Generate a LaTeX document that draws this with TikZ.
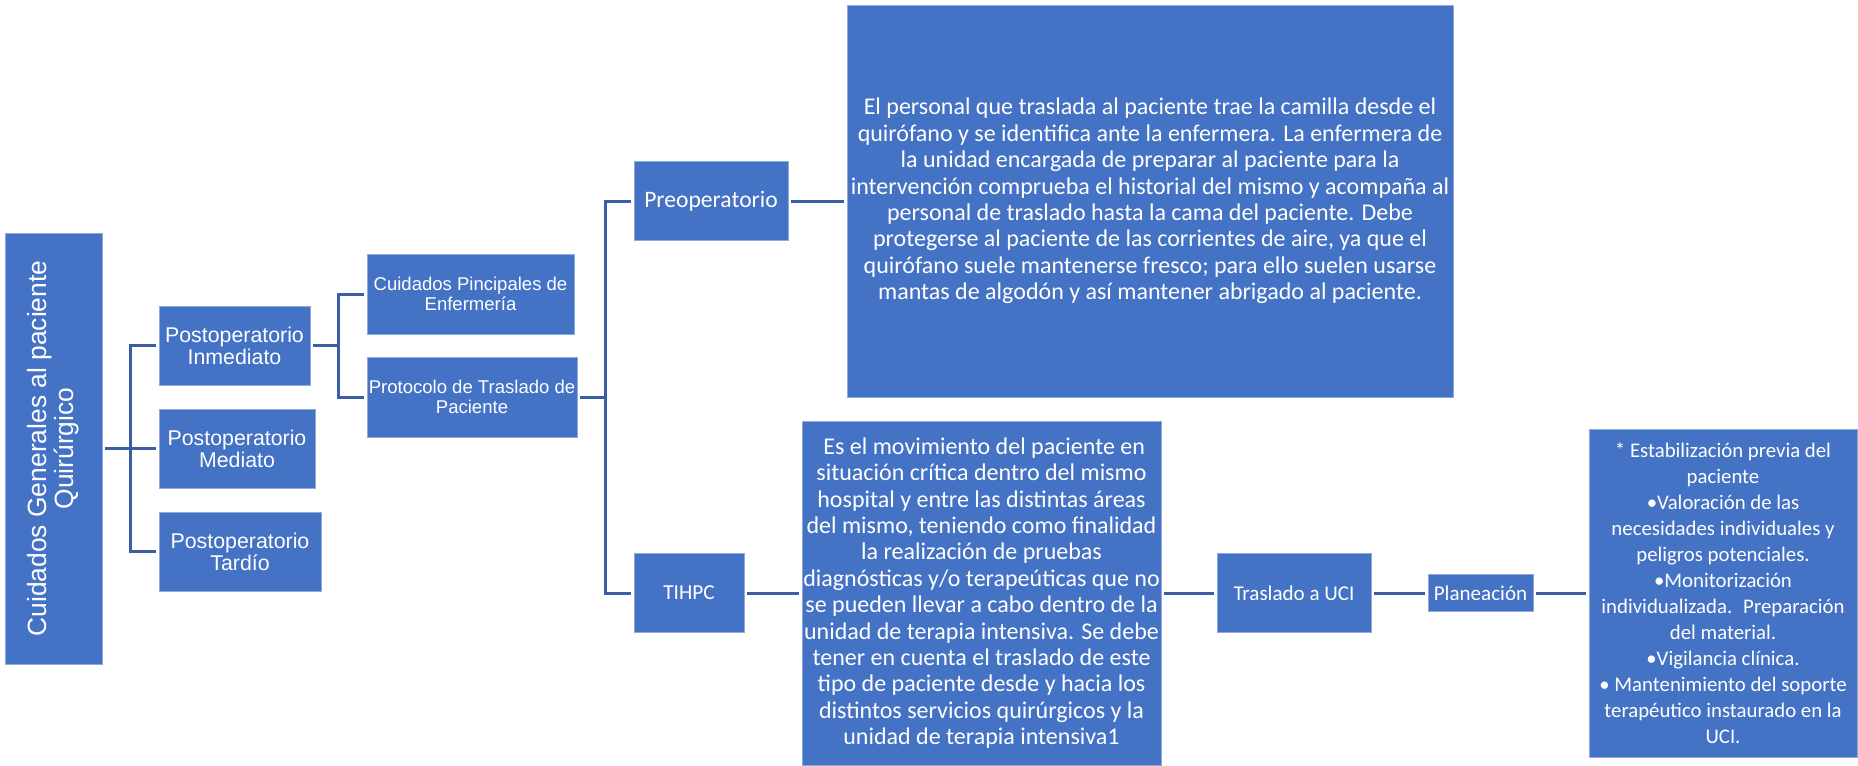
\documentclass[tikz,border=0pt]{standalone}
\usepackage{fontspec}
\newfontfamily\arialf{Liberation Sans}
\newfontfamily\calf{Carlito}
\usetikzlibrary{positioning}
\definecolor{boxC}{HTML}{4472C4}
\definecolor{edgeC}{HTML}{8EA9DB}
\definecolor{lineC}{HTML}{3A5DA5}
\tikzstyle{blk}=[draw=edgeC, line width=0.75pt, fill=boxC, text=white, shape=rectangle, inner sep=0pt, outer sep=2pt, align=center]
\tikzstyle{sbx}=[blk, font=\arialf\fontsize{16}{16.7}\selectfont, minimum height=59.25pt]
\tikzstyle{pbx}=[blk, font=\arialf\fontsize{13.9}{14.5}\selectfont, minimum height=60pt]
\tikzstyle{cbx}=[blk, font=\calf\fontsize{16}{18}\selectfont, minimum height=59.25pt]
\tikzstyle{tbx}=[blk, font=\calf\fontsize{18}{19.8}\selectfont]
\tikzstyle{carrow}=[line width=2.25pt, color=lineC]
\def\sbx{\node[style=sbx]}
\def\pbx{\node[style=pbx]}
\def\cbx{\node[style=cbx]}
\def\tbx{\node[style=tbx]}
\def\carrow{\draw[style=carrow]}

\begin{document}
\begin{tikzpicture}[x=0.75pt, y=-0.75pt]
      \useasboundingbox (0,0) rectangle (1858,765);
      % root (rotated, so .south is its right side)
      \node[blk, rotate=90, font=\arialf\fontsize{19.8}{20.5}\selectfont, minimum width=323.25pt, minimum height=72.75pt] (root) at (53.5,448.5)
            {Cuidados Generales al paciente\\Quirúrgico};
      % postoperatorio
      \sbx[minimum width=113.25pt] (pinm) at (234.5,345.5) {Postoperatorio\\Inmediato};
      \sbx[minimum width=117pt]    (pmed) at (237,448.5)   {Postoperatorio\\Mediato};
      \sbx[minimum width=121.5pt]  (ptar) at (240,551.5)   {Postoperatorio\\Tardío};
      \pbx[minimum width=155.25pt] (cuid) at (470.5,294)   {Cuidados Pincipales de\\Enfermería};
      \pbx[minimum width=157.5pt]  (prot) at (472,397)     {Protocolo de Traslado de\\Paciente};
      % traslado
      \cbx[minimum width=115.5pt, font=\calf\fontsize{17.7}{19}\selectfont] (preop) at (711,201) {Preoperatorio};
      \cbx[minimum width=82.5pt]   (tihpc) at (689,593)    {TIHPC};
      \tbx[minimum width=454.5pt, minimum height=294pt] (txtpre) at (1150,201)
            {El personal que traslada al paciente trae la camilla desde el\\
             quirófano y se identifica ante la enfermera. La enfermera de\\
             la unidad encargada de preparar al paciente para la\\
             intervención comprueba el historial del mismo y acompaña al\\
             personal de traslado hasta la cama del paciente. Debe\\
             protegerse al paciente de las corrientes de aire, ya que el\\
             quirófano suele mantenerse fresco; para ello suelen usarse\\
             mantas de algodón y así mantener abrigado al paciente.};
      \tbx[minimum width=269.25pt, minimum height=258pt] (txttih) at (981.5,593)
            {\ Es el movimiento del paciente en\\
             situación crítica dentro del mismo\\
             hospital y entre las distintas áreas\\
             del mismo, teniendo como finalidad\\
             la realización de pruebas\\
             diagnósticas y/o terapeúticas que no\\
             se pueden llevar a cabo dentro de la\\
             unidad de terapia intensiva. Se debe\\
             tener en cuenta el traslado de este\\
             tipo de paciente desde y hacia los\\
             distintos servicios quirúrgicos y la\\
             unidad de terapia intensiva1};
      \cbx[minimum width=115.5pt, font=\calf\fontsize{15.8}{18}\selectfont] (uci) [right=38pt of txttih] {Traslado a UCI};
      \cbx[minimum width=78.75pt, minimum height=27.75pt, font=\calf\fontsize{15.8}{18}\selectfont] (plan) [right=38.75pt of uci] {Planeación};
      \tbx[minimum width=201pt, minimum height=246pt, font=\calf\fontsize{15.6}{19.5}\selectfont] (txtplan) [right=38pt of plan]
            {* Estabilización previa del\\
             paciente\\
             •Valoración de las\\
             necesidades individuales y\\
             peligros potenciales.\\
             •Monitorización\\
             individualizada.~ Preparación\\
             del material.\\
             •Vigilancia clínica.\\
             • Mantenimiento del soporte\\
             terapéutico instaurado en la\\
             UCI.};

      % forks
      \coordinate (f1) at (130,448.5);
      \coordinate (f2) at (338,345.5);
      \coordinate (f3) at (605,397);
      \carrow (root.south) -- (pmed.west);
      \carrow (pinm.west) -| (f1) |- (ptar.west);
      \carrow (pinm.east) -- (f2);
      \carrow (cuid.west) -| (f2) |- (prot.west);
      \carrow (prot.east) -- (f3);
      \carrow (preop.west) -| (f3) |- (tihpc.west);
      \carrow (preop.east) -- (txtpre.west |- preop.east);
      \carrow (tihpc.east) -- (txttih.west);
      \carrow (txttih.east) -- (uci.west);
      \carrow (uci.east) -- (plan.west);
      \carrow (plan.east) -- (txtplan.west);
\end{tikzpicture}
\end{document}
